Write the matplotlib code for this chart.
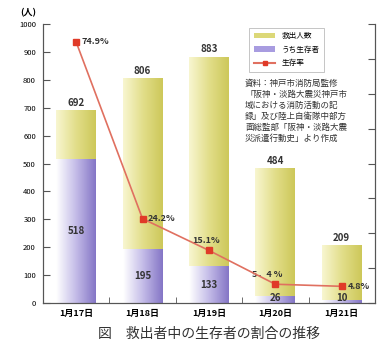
import matplotlib
matplotlib.use("Agg")
import matplotlib.pyplot as plt
import numpy as np
from matplotlib.patches import Patch
from matplotlib.lines import Line2D

plt.rcParams['font.family'] = ['Noto Sans CJK JP', 'DejaVu Sans']

# データ
days = ["1月17日", "1月18日", "1月19日", "1月20日", "1月21日"]
rescued = [692, 806, 883, 484, 209]
survivors = [518, 195, 133, 26, 10]
rate = [74.9, 24.2, 15.1, 5.4, 4.8]
rate_labels = ["74.9%", "24.2%", "15.1%", "5．4 %", "4.8%"]

yellow_cmap = matplotlib.colors.LinearSegmentedColormap.from_list("y", ["#f8f6d0", "#e2de8a", "#cdc85a"])
purple_cmap = matplotlib.colors.LinearSegmentedColormap.from_list("p", ["#ffffff", "#c4bce8", "#8576c6"])

fig = plt.figure(figsize=(3.83, 3.44), dpi=100)
ax = fig.add_axes([0.112, 0.119, 0.867, 0.811])

x = np.arange(len(days))
w = 0.6
grad = np.linspace(0, 1, 64).reshape(1, -1)

def grad_bar(xc, bottom, height, cmap):
    bar = ax.bar(xc, height, w, bottom=bottom, color='none', edgecolor='none')[0]
    im = ax.imshow(grad, cmap=cmap, aspect='auto',
                   extent=[xc - w / 2, xc + w / 2, bottom, bottom + height], zorder=1)
    im.set_clip_path(bar)

for i in range(len(days)):
    grad_bar(x[i], survivors[i], rescued[i] - survivors[i], yellow_cmap)
    grad_bar(x[i], 0, survivors[i], purple_cmap)
    ax.text(x[i], rescued[i] + 8, str(rescued[i]), ha='center', va='bottom',
            fontsize=7, fontweight='bold', color='#333333')
    if survivors[i] > 60:
        ax.text(x[i], survivors[i] / 2, str(survivors[i]), ha='center', va='center',
                fontsize=7, fontweight='bold', color='#333333')
    else:
        ax.text(x[i], 2, str(survivors[i]), ha='center', va='bottom',
                fontsize=7, fontweight='bold', color='#333333')

ax.set_xlim(-0.5, 4.5)
ax.set_ylim(0, 1000)

# 生存率 (右軸 0-80%)
ax2 = ax.twinx()
ax2.set_ylim(0, 80)
ax2.plot(x, rate, color='#e07060', lw=1.2, marker='s', ms=5,
         mfc='#e03a28', mec='#e03a28', zorder=5)
offsets = [(4, 0), (4, 0), (-2, 7), (-6, 7), (4, 0)]
for i in range(len(days)):
    dx, dy = offsets[i]
    ha = 'left' if dx >= 4 else 'center'
    ax2.annotate(rate_labels[i], (x[i], rate[i]), xytext=(dx, dy), textcoords='offset points',
                 ha=ha, va='center', fontsize=6.5, fontweight='bold', color='#333333')
ax2.set_yticks(np.arange(0, 81, 10))
ax2.set_yticklabels([])
ax2.tick_params(axis='y', direction='in', length=5, color='#555555')

for a in (ax, ax2):
    a.spines['top'].set_visible(False)
    for s in ('left', 'right', 'bottom'):
        a.spines[s].set_color('#555555')

ax.set_yticks(np.arange(0, 1001, 100))
ax.tick_params(axis='y', direction='in', length=5, labelsize=5.5, pad=5, color='#555555')
ax.set_xticks(x)
ax.set_xticklabels(days, fontsize=6.5, fontweight='bold')
ax.tick_params(axis='x', length=0, pad=4)
ax.set_xticks(x[:-1] + 0.5, minor=True)
ax.tick_params(axis='x', which='minor', direction='in', length=4, color='#555555')

fig.text(0.075, 0.962, "(人)", fontsize=6.5, fontweight='bold', ha='center', va='center')

# 凡例
handles = [Patch(facecolor='#dcd878', edgecolor='none'),
           Patch(facecolor='#a89ce0', edgecolor='none'),
           Line2D([], [], color='#e07060', marker='s', ms=3, mfc='#e03a28', mec='#e03a28')]
leg = ax.legend(handles, ["救出人数", "うち生存者", "生存率"], loc='upper left',
                bbox_to_anchor=(0.61, 1.0), fontsize=5.5, frameon=True, fancybox=False,
                handlelength=2.8, labelspacing=0.7, borderpad=0.6)
leg.get_frame().set_edgecolor('#aaaaaa')
leg.get_frame().set_linewidth(0.6)

source = "資料：神戸市消防局監修\n「阪神・淡路大震災神戸市\n域における消防活動の記\n録」及び陸上自衛隊中部方\n面総監部「阪神・淡路大震\n災派遣行動史」より作成"
fig.text(0.64, 0.772, source, fontsize=6.1, ha='left', va='top', linespacing=1.3, color='#333333')

fig.text(0.545, 0.03, "図　救出者中の生存者の割合の推移", fontsize=10, ha='center', va='center', color='#333333')

fig.savefig("out.png", dpi=100)
